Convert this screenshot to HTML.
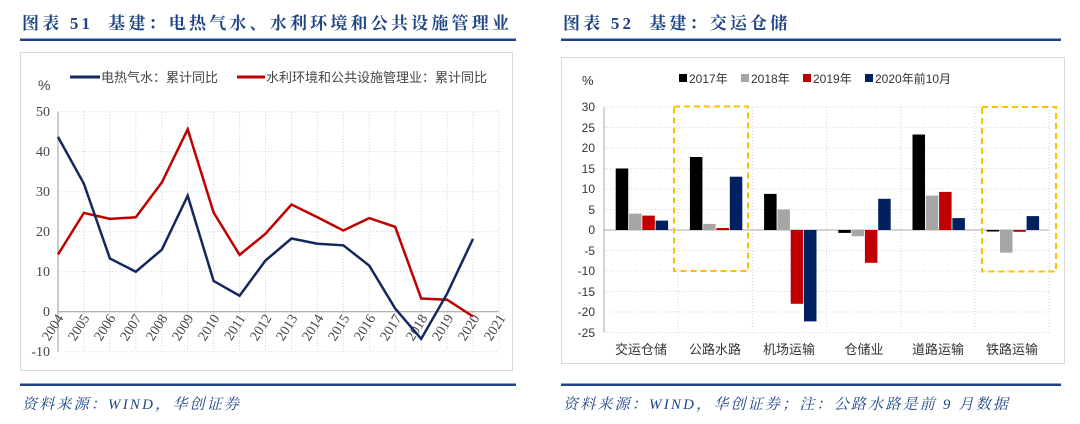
<!DOCTYPE html>
<html><head><meta charset="utf-8"><style>
body{margin:0;background:#fff;}
svg{display:block;font-family:"Liberation Serif","Noto Serif CJK SC",serif;}
.cn{font-family:"Liberation Sans","Noto Sans CJK SC",sans-serif;}
</style></head><body>
<svg width="1080" height="424" viewBox="0 0 1080 424" xmlns="http://www.w3.org/2000/svg">
<!-- titles -->
<text x="22" y="29" font-size="17" font-weight="bold" fill="#1f4586" letter-spacing="3.2" style="white-space:pre" font-family="Liberation Serif,Noto Serif CJK SC,serif">图表 51  基建：电热气水、水利环境和公共设施管理业</text>
<text x="563" y="29" font-size="17" font-weight="bold" fill="#1f4586" letter-spacing="3.2" style="white-space:pre" font-family="Liberation Serif,Noto Serif CJK SC,serif">图表 52  基建：交运仓储</text>
<rect x="20" y="38.5" width="496" height="2.5" fill="#1f4586"/>
<rect x="561" y="38.5" width="500" height="2.5" fill="#1f4586"/>
<rect x="20" y="383.5" width="496" height="2.5" fill="#1f4586"/>
<rect x="561" y="383.5" width="500" height="2.5" fill="#1f4586"/>
<text x="22" y="409" font-size="15" font-style="italic" fill="#1f4586" letter-spacing="2.2">资料来源：WIND，华创证券</text>
<text x="563" y="409" font-size="15" font-style="italic" fill="#1f4586" letter-spacing="2.2" style="white-space:pre">资料来源：WIND，华创证券；注：公路水路是前 9 月数据</text>
<!-- panels -->
<rect x="20.5" y="52.5" width="492" height="318" fill="none" stroke="#d9d9d9"/>
<rect x="561.5" y="57.5" width="503" height="306" fill="none" stroke="#d9d9d9"/>

<!-- LEFT CHART -->
<g stroke="#cfcfcf" stroke-dasharray="1,2" stroke-width="1">
<line x1="58" y1="111.7" x2="499" y2="111.7"/><line x1="58" y1="151.7" x2="499" y2="151.7"/>
<line x1="58" y1="191.7" x2="499" y2="191.7"/><line x1="58" y1="231.7" x2="499" y2="231.7"/>
<line x1="58" y1="271.7" x2="499" y2="271.7"/><line x1="58" y1="351.7" x2="499" y2="351.7"/>
<line x1="83.9" y1="111.7" x2="83.9" y2="351.7"/><line x1="109.9" y1="111.7" x2="109.9" y2="351.7"/>
<line x1="135.8" y1="111.7" x2="135.8" y2="351.7"/><line x1="161.8" y1="111.7" x2="161.8" y2="351.7"/>
<line x1="187.7" y1="111.7" x2="187.7" y2="351.7"/><line x1="213.6" y1="111.7" x2="213.6" y2="351.7"/>
<line x1="239.6" y1="111.7" x2="239.6" y2="351.7"/><line x1="265.5" y1="111.7" x2="265.5" y2="351.7"/>
<line x1="291.5" y1="111.7" x2="291.5" y2="351.7"/><line x1="317.4" y1="111.7" x2="317.4" y2="351.7"/>
<line x1="343.3" y1="111.7" x2="343.3" y2="351.7"/><line x1="369.3" y1="111.7" x2="369.3" y2="351.7"/>
<line x1="395.2" y1="111.7" x2="395.2" y2="351.7"/><line x1="421.2" y1="111.7" x2="421.2" y2="351.7"/>
<line x1="447.1" y1="111.7" x2="447.1" y2="351.7"/><line x1="473" y1="111.7" x2="473" y2="351.7"/>
<line x1="499" y1="111.7" x2="499" y2="351.7"/>
</g>
<line x1="58" y1="111.7" x2="58" y2="351.7" stroke="#999"/>
<line x1="58" y1="311.7" x2="499" y2="311.7" stroke="#999"/>
<g font-size="14" fill="#444" text-anchor="end">
<text x="50" y="116">50</text><text x="50" y="156">40</text><text x="50" y="196">30</text>
<text x="50" y="236">20</text><text x="50" y="276">10</text><text x="50" y="316">0</text><text x="50" y="356">-10</text>
</g>
<text x="38" y="90" font-size="14" fill="#444" class="cn">%</text>
<g font-size="14" fill="#444" text-anchor="end">
<text transform="translate(64,318) rotate(-58)">2004</text><text transform="translate(90,318) rotate(-58)">2005</text>
<text transform="translate(116,318) rotate(-58)">2006</text><text transform="translate(142,318) rotate(-58)">2007</text>
<text transform="translate(168,318) rotate(-58)">2008</text><text transform="translate(194,318) rotate(-58)">2009</text>
<text transform="translate(220,318) rotate(-58)">2010</text><text transform="translate(246,318) rotate(-58)">2011</text>
<text transform="translate(272,318) rotate(-58)">2012</text><text transform="translate(298,318) rotate(-58)">2013</text>
<text transform="translate(324,318) rotate(-58)">2014</text><text transform="translate(350,318) rotate(-58)">2015</text>
<text transform="translate(376,318) rotate(-58)">2016</text><text transform="translate(402,318) rotate(-58)">2017</text>
<text transform="translate(428,318) rotate(-58)">2018</text><text transform="translate(454,318) rotate(-58)">2019</text>
<text transform="translate(480,318) rotate(-58)">2020</text><text transform="translate(506,318) rotate(-58)">2021</text>
</g>
<polyline fill="none" stroke="#c00000" stroke-width="2.5" points="58,254.5 83.9,212.9 109.9,218.9 135.8,217.3 161.8,182.5 187.7,129.3 213.6,212.5 239.6,254.9 265.5,233.7 291.5,204.5 317.4,217.3 343.3,230.5 369.3,218.1 395.2,226.9 421.2,298.5 447.1,299.7 473,316.5"/>
<polyline fill="none" stroke="#14285c" stroke-width="2.5" points="58,136.9 83.9,183.7 109.9,258.5 135.8,271.7 161.8,249.7 187.7,195.7 213.6,280.9 239.6,295.7 265.5,260.5 291.5,238.5 317.4,243.7 343.3,245.3 369.3,265.7 395.2,308.5 421.2,338.9 447.1,293.7 473,238.9"/>
<g class="cn" font-size="13" fill="#444">
<line x1="70" y1="77" x2="100" y2="77" stroke="#14285c" stroke-width="3"/>
<text x="101" y="82">电热气水：累计同比</text>
<line x1="237" y1="77" x2="265" y2="77" stroke="#c00000" stroke-width="3"/>
<text x="266" y="82">水利环境和公共设施管理业：累计同比</text>
</g>

<!-- RIGHT CHART -->
<g stroke="#d6d6d6" stroke-dasharray="1,2">
<line x1="604" y1="107" x2="1049" y2="107"/><line x1="604" y1="127.5" x2="1049" y2="127.5"/>
<line x1="604" y1="148" x2="1049" y2="148"/><line x1="604" y1="168.5" x2="1049" y2="168.5"/>
<line x1="604" y1="189" x2="1049" y2="189"/><line x1="604" y1="209.5" x2="1049" y2="209.5"/>
<line x1="604" y1="250.5" x2="1049" y2="250.5"/><line x1="604" y1="271" x2="1049" y2="271"/>
<line x1="604" y1="291.5" x2="1049" y2="291.5"/><line x1="604" y1="312" x2="1049" y2="312"/>
<line x1="604" y1="332.5" x2="1049" y2="332.5"/>
<line x1="678.2" y1="107" x2="678.2" y2="332.5"/><line x1="752.4" y1="107" x2="752.4" y2="332.5"/>
<line x1="826.6" y1="107" x2="826.6" y2="332.5"/><line x1="900.8" y1="107" x2="900.8" y2="332.5"/>
<line x1="975" y1="107" x2="975" y2="332.5"/><line x1="1049" y1="107" x2="1049" y2="332.5"/>
</g>
<line x1="604" y1="107" x2="604" y2="332.5" stroke="#aaa"/>
<line x1="604" y1="230" x2="1049" y2="230" stroke="#aaa"/>
<g font-size="12" fill="#333" text-anchor="end" font-family="Liberation Sans,sans-serif">
<text x="595" y="111">30</text><text x="595" y="132">25</text><text x="595" y="152">20</text>
<text x="595" y="173">15</text><text x="595" y="193">10</text><text x="595" y="214">5</text>
<text x="595" y="234">0</text><text x="595" y="255">-5</text><text x="595" y="275">-10</text>
<text x="595" y="296">-15</text><text x="595" y="316">-20</text><text x="595" y="337">-25</text>
</g>
<text x="582" y="85" font-size="13" fill="#333" font-family="Liberation Sans,sans-serif">%</text>
<!-- bars -->
<g transform="translate(615.7,0)">
<rect x="0" y="168.5" width="12.5" height="61.5" fill="#000"/><rect x="13.3" y="213.6" width="12.5" height="16.4" fill="#a6a6a6"/><rect x="26.6" y="215.6" width="12.5" height="14.4" fill="#c00000"/><rect x="39.9" y="220.6" width="12.5" height="9.4" fill="#002060"/>
</g>
<g transform="translate(689.9,0)">
<rect x="0" y="157" width="12.5" height="73" fill="#000"/><rect x="13.3" y="223.9" width="12.5" height="6.1" fill="#a6a6a6"/><rect x="26.6" y="228" width="12.5" height="2" fill="#c00000"/><rect x="39.9" y="176.7" width="12.5" height="53.3" fill="#002060"/>
</g>
<g transform="translate(764.1,0)">
<rect x="0" y="193.9" width="12.5" height="36.1" fill="#000"/><rect x="13.3" y="209.5" width="12.5" height="20.5" fill="#a6a6a6"/><rect x="26.6" y="230" width="12.5" height="73.8" fill="#c00000"/><rect x="39.9" y="230" width="12.5" height="91.4" fill="#002060"/>
</g>
<g transform="translate(838.3,0)">
<rect x="0" y="230" width="12.5" height="2.9" fill="#000"/><rect x="13.3" y="230" width="12.5" height="6.2" fill="#a6a6a6"/><rect x="26.6" y="230" width="12.5" height="32.8" fill="#c00000"/><rect x="39.9" y="198.8" width="12.5" height="31.2" fill="#002060"/>
</g>
<g transform="translate(912.5,0)">
<rect x="0" y="134.5" width="12.5" height="95.5" fill="#000"/><rect x="13.3" y="195.6" width="12.5" height="34.4" fill="#a6a6a6"/><rect x="26.6" y="191.9" width="12.5" height="38.1" fill="#c00000"/><rect x="39.9" y="218.1" width="12.5" height="11.9" fill="#002060"/>
</g>
<g transform="translate(986.7,0)">
<rect x="0" y="230" width="12.5" height="1.5" fill="#000"/><rect x="13.3" y="230" width="12.5" height="22.6" fill="#a6a6a6"/><rect x="26.6" y="230" width="12.5" height="1.8" fill="#c00000"/><rect x="39.9" y="216.1" width="12.5" height="13.9" fill="#002060"/>
</g>
<!-- dashed boxes -->
<rect x="674" y="106.5" width="74" height="164.5" fill="none" stroke="#ffc000" stroke-width="2" stroke-dasharray="6,4"/>
<rect x="982" y="107" width="74" height="164.5" fill="none" stroke="#ffc000" stroke-width="2" stroke-dasharray="6,4"/>
<!-- category labels -->
<g class="cn" font-size="13" fill="#333" text-anchor="middle">
<text x="641" y="354">交运仓储</text><text x="715" y="354">公路水路</text><text x="789" y="354">机场运输</text>
<text x="864" y="354">仓储业</text><text x="938" y="354">道路运输</text><text x="1012" y="354">铁路运输</text>
</g>
<!-- legend -->
<g class="cn" font-size="12" fill="#333">
<rect x="679" y="74" width="8" height="8" fill="#000"/><text x="689" y="83">2017年</text>
<rect x="741" y="74" width="8" height="8" fill="#a6a6a6"/><text x="751" y="83">2018年</text>
<rect x="803" y="74" width="8" height="8" fill="#c00000"/><text x="813" y="83">2019年</text>
<rect x="865" y="74" width="8" height="8" fill="#002060"/><text x="875" y="83">2020年前10月</text>
</g>
</svg>
</body></html>
